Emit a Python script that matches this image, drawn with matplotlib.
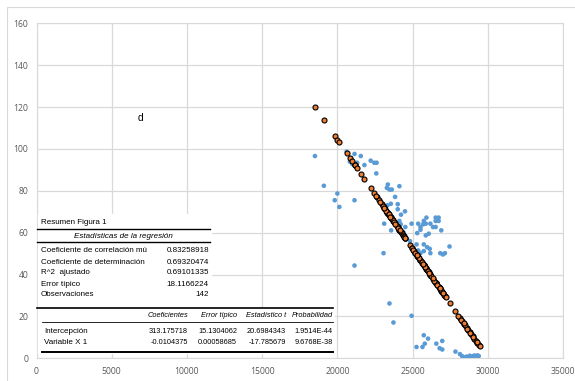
import matplotlib
matplotlib.use('Agg')
import matplotlib.pyplot as plt
from matplotlib.lines import Line2D
from matplotlib.patches import Rectangle

plt.rcParams['font.family'] = ['Liberation Sans', 'DejaVu Sans']

# variable X 1 (shared by both series)
x_vals = [18509, 19101, 19825, 20000, 20132, 20614, 20833, 20987, 21140, 21140,
          21140, 21316, 21557, 21798, 22215, 22456, 22610, 22588, 23070, 23114,
          23290, 23355, 23333, 23465, 23465, 23553, 23575, 23618, 23728, 23838,
          24013, 24013, 24123, 24123, 24211, 24232, 24386, 24496, 24518, 22950,
          23050, 23180, 23250, 23400, 23680, 23780, 23950, 24050, 24280, 24350,
          24420, 24825, 24934, 24934, 25110, 25263, 25263, 25307, 25373, 25373,
          25526, 25526, 25526, 25658, 25702, 25746, 25746, 25746, 25811, 25746,
          25877, 25877, 25921, 25965, 26030, 26074, 26140, 26184, 26184, 26360,
          26535, 26535, 26535, 26579, 26732, 26732, 26798, 26842, 26908, 26974,
          26974, 27018, 27149, 25050, 25180, 25420, 25600, 25850, 26000, 26250,
          26450, 26650, 26900, 27100, 27200, 27456, 27851, 28300, 28450, 28600,
          28700, 28800, 28900, 29000, 29100, 29200, 29300, 29400, 28150, 28050,
          28250, 28500, 28650, 28850, 29050, 29250, 22750, 22850, 23120, 23520,
          23850, 24150, 24450, 24500, 25300, 25700, 26100, 26350, 26800, 27000,
          28400, 29450]

# observed Y
y_obs = [96.6, 82.4, 75.5, 78.7, 72.3, 98.7, 93.9, 92.8, 97.6, 75.5,
         44.3, 93.4, 96.6, 92.3, 94.4, 93.4, 93.4, 88.3, 50.2, 64.3,
         81.4, 83.0, 73.1, 80.6, 26.2, 73.8, 61.1, 80.6, 17.1, 77.1,
         73.6, 71.2, 82.2, 65.6, 64.0, 68.6, 60.3, 70.2, 62.7, 74.0,
         72.0, 71.0, 70.0, 69.0, 66.0, 65.0, 63.0, 62.0, 60.0, 59.0,
         58.0, 56.0, 64.3, 20.3, 49.9, 54.4, 5.4, 59.8, 64.3, 51.5,
         62.7, 61.4, 50.2, 5.4, 64.0, 65.6, 54.4, 51.2, 7.0, 11.0,
         64.3, 58.7, 67.2, 53.1, 9.4, 59.5, 52.3, 64.3, 50.2, 62.7,
         67.2, 65.6, 62.7, 7.0, 67.2, 65.6, 4.8, 50.2, 61.1, 8.3,
         4.2, 49.6, 50.2, 52.0, 50.0, 48.0, 46.0, 43.0, 42.0, 39.0,
         37.0, 35.0, 32.0, 30.0, 29.0, 53.4, 3.2, 1.0, 0.5, 0.8,
         0.3, 1.2, 0.6, 1.0, 1.3, 0.9, 1.4, 1.1, 2.0, 20.0,
         18.0, 15.0, 14.0, 12.0, 10.0, 8.0, 76.0, 75.0, 71.0, 68.0,
         64.0, 61.0, 58.0, 57.0, 49.0, 45.0, 41.0, 38.0, 34.0, 31.0,
         16.0, 6.0]

# pronostico Y (fitted values)
y_pred = [120.0, 113.8, 106.3, 104.4, 103.1, 98.0, 95.7, 94.1, 92.5, 92.5,
          92.5, 90.7, 88.2, 85.7, 81.3, 78.8, 77.2, 77.4, 72.4, 71.9,
          70.1, 69.4, 69.6, 68.3, 68.3, 67.4, 67.1, 66.7, 65.5, 64.4,
          62.5, 62.5, 61.4, 61.4, 60.5, 60.3, 58.7, 57.5, 57.3, 73.6,
          72.6, 71.2, 70.5, 68.9, 66.0, 65.0, 63.2, 62.2, 59.8, 59.0,
          58.3, 54.1, 52.9, 52.9, 51.1, 49.5, 49.5, 49.0, 48.3, 48.3,
          46.8, 46.8, 46.8, 45.4, 44.9, 44.5, 44.5, 44.5, 43.8, 44.5,
          43.1, 43.1, 42.6, 42.2, 41.5, 41.0, 40.3, 39.9, 39.9, 38.1,
          36.2, 36.2, 36.2, 35.8, 34.2, 34.2, 33.5, 33.0, 32.3, 31.6,
          31.6, 31.2, 29.8, 51.7, 50.4, 47.9, 46.0, 43.4, 41.8, 39.2,
          37.1, 35.0, 32.4, 30.3, 29.3, 26.6, 22.5, 17.8, 16.2, 14.7,
          13.6, 12.6, 11.5, 10.5, 9.4, 8.4, 7.4, 6.3, 19.4, 20.4,
          18.3, 15.7, 14.1, 12.1, 10.0, 7.9, 75.7, 74.7, 71.9, 67.7,
          64.3, 61.1, 58.0, 57.5, 49.1, 44.9, 40.8, 38.2, 33.5, 31.4,
          16.8, 5.8]

x_ticks = [0, 5000, 10000, 15000, 20000, 25000, 30000, 35000]
y_ticks = [0, 20, 40, 60, 80, 100, 120, 140, 160]

resumen = [('Coeficiente de correlación mú', '0.83258918'),
           ('Coeficiente de determinación', '0.69320474'),
           ('R^2  ajustado', '0.69101335'),
           ('Error típico', '18.1166224'),
           ('Observaciones', '142')]
cabecera = ['Coeficientes', 'Error típico', 'Estadístico t', 'Probabilidad']
filas = [('Intercepción', ['313.175718', '15.1304062', '20.6984343', '1.9514E-44']),
         ('Variable X 1', ['-0.0104375', '0.00058685', '-17.785679', '9.6768E-38'])]

W, H = 575, 381
fig = plt.figure(figsize=(W / 100, H / 100), dpi=100)
ax = fig.add_axes([36.5 / W, 1 - 358.3 / H, (563 - 36.5) / W, (358.3 - 23.3) / H])

grid_c = '#d9d9d9'
ax.scatter(x_vals, y_obs, s=11, color='#5b9bd5', edgecolors='none', zorder=3)
ax.scatter(x_vals, y_pred, s=13, color='#ed7d31', edgecolors='black', linewidths=0.8, zorder=4)
ax.set_xlim(0, 35000)
ax.set_ylim(0, 160)
ax.set_xticks(x_ticks)
ax.set_yticks(y_ticks)
ax.grid(True, color=grid_c, linewidth=0.9)
ax.set_axisbelow(True)
for s in ax.spines.values():
    s.set_color(grid_c)
ax.tick_params(length=0, labelsize=6.2, labelcolor='#595959', pad=6)
for lab in ax.get_xticklabels() + ax.get_yticklabels():
    lab.set_family(['Open Sans', 'DejaVu Sans'])
ax.text(6939, 114.8, 'd', fontsize=7.5, ha='center', va='center')


def fx(px):
    return px / W


def fy(py):
    return 1 - py / H


# chart area border (only top/left visible)
fig.patches.append(Rectangle((fx(7), fy(400)), fx(600), fy(7) - fy(400),
                             transform=fig.transFigure, fill=False,
                             edgecolor=grid_c, linewidth=0.8))

# regression summary table
fs = 5.8
fs2 = 5.3
fig.patches.append(Rectangle((fx(38), fy(308)), fx(211) - fx(38), fy(214) - fy(308),
                             transform=fig.transFigure, color='white', zorder=5))
fig.patches.append(Rectangle((fx(38), fy(353)), fx(334) - fx(38), fy(308) - fy(353),
                             transform=fig.transFigure, color='white', zorder=5))


def hline(x0, x1, py, lw):
    fig.lines.append(Line2D([fx(x0), fx(x1)], [fy(py), fy(py)], transform=fig.transFigure,
                            color='black', linewidth=lw, zorder=6))


fig.text(fx(41), fy(222.5), 'Resumen Figura 1', fontsize=fs, va='center', zorder=7)
hline(37, 210, 229.3, 1.0)
fig.text(fx(123), fy(236.2), 'Estadísticas de la regresión', fontsize=fs, style='italic',
         ha='center', va='center', zorder=7)
hline(37, 210, 242.3, 1.0)
for i, (lab, val) in enumerate(resumen):
    py = 251 + i * 11
    fig.text(fx(41), fy(py), lab, fontsize=fs, va='center', zorder=7)
    fig.text(fx(209), fy(py), val, fontsize=fs, ha='right', va='center', zorder=7)
hline(37, 333, 308.3, 1.2)
col_r = [188, 237, 286, 333]
for c, lab in zip(col_r, cabecera):
    fig.text(fx(c), fy(315.5), lab, fontsize=fs2, style='italic', ha='right', va='center', zorder=7)
hline(42, 333, 322, 0.6)
for j, (lab, vals) in enumerate(filas):
    py = 331.5 + j * 11.5
    fig.text(fx(44), fy(py), lab, fontsize=fs, va='center', zorder=7)
    for c, v in zip(col_r, vals):
        fig.text(fx(c), fy(py), v, fontsize=fs2, ha='right', va='center', zorder=7)
hline(42, 333, 351.7, 1.4)

fig.savefig('out.png', dpi=100)
